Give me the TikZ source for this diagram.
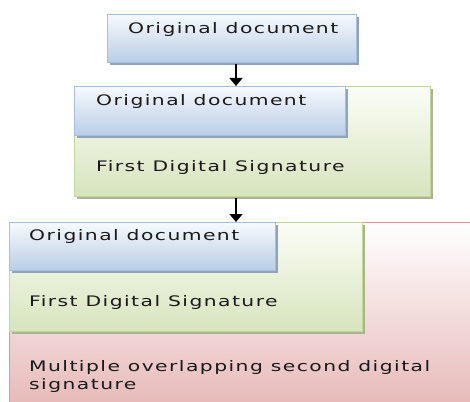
\documentclass[tikz,border=0pt]{standalone}
\usepackage{fontspec}
\newfontfamily\boxfont[FakeStretch=1.4,LetterSpace=10]{DejaVu Sans}
\usetikzlibrary{arrows.meta,shadows}

\definecolor{bluetop}{HTML}{F7FAFD}
\definecolor{bluebot}{HTML}{B9CDE5}
\definecolor{blueline}{HTML}{A7BFDE}
\definecolor{blueshade}{HTML}{8FA3BD}
\definecolor{greentop}{HTML}{FBFDF7}
\definecolor{greenbot}{HTML}{D7E4BD}
\definecolor{greenline}{HTML}{C3D69B}
\definecolor{greenshade}{HTML}{A8B58E}
\definecolor{redtop}{HTML}{FFFFFF}
\definecolor{redbot}{HTML}{E6B9B8}
\definecolor{redline}{HTML}{D99694}
\definecolor{labeltext}{HTML}{1A1A1A}

\tikzset{
  panel/.style={rectangle, anchor=north west, inner sep=0pt, line width=0.6pt},
  docbox/.style={panel, draw=blueline, top color=bluetop, bottom color=bluebot,
    drop shadow={shadow xshift=2.5pt, shadow yshift=-2.5pt, fill=blueshade, opacity=1}},
  sigbox/.style={panel, draw=greenline, top color=greentop, bottom color=greenbot,
    drop shadow={shadow xshift=2.5pt, shadow yshift=-2.5pt, fill=greenshade, opacity=1}},
  multibox/.style={panel, draw=redline, top color=redtop, bottom color=redbot},
  label/.style={anchor=base west, inner sep=0pt, text=labeltext, align=left,
    font=\boxfont\fontsize{14.5}{17.5}\selectfont},
  flow/.style={line width=1.4pt, -{Triangle[width=13pt,length=8pt]}}
}

\begin{document}
\begin{tikzpicture}[x=1pt,y=-1pt]
\useasboundingbox (0,0) rectangle (470,401);

% stage 1: the document alone
\node[docbox, minimum width=249pt, minimum height=48pt] (doc1) at (107,14) {};
\node[label] (doc1text) at (128,34) {Original document};

% stage 2: document with the first signature
\node[sigbox, minimum width=356pt, minimum height=110pt] (sig2) at (74,86) {};
\node[docbox, minimum width=271pt, minimum height=49pt] (doc2) at (74,86) {};
\node[label] (doc2text) at (96,105) {Original document};
\node[label] (sig2text) at (96,171) {First Digital Signature};

% stage 3: document, first signature and the overlapping second signatures
\node[multibox, minimum width=470pt, minimum height=185pt] (multi3) at (9,222) {};
\node[sigbox, minimum width=353pt, minimum height=109pt] (sig3) at (9,222) {};
\node[docbox, minimum width=266pt, minimum height=48pt] (doc3) at (9,222) {};
\node[label] (doc3text) at (29,240) {Original document};
\node[label] (sig3text) at (29,306) {First Digital Signature};
% the base of a two-line label sits on its last line
\node[label] (multi3text) at (29,389) {Multiple overlapping second digital\\signature};

% arrows between the stages
\coordinate (axis) at (236,0);
\draw[flow] ([yshift=-1.5pt]doc1.south -| axis) -- (sig2.north -| axis);
\draw[flow] ([yshift=-1.5pt]sig2.south -| axis) -- (multi3.north -| axis);
\end{tikzpicture}
\end{document}
